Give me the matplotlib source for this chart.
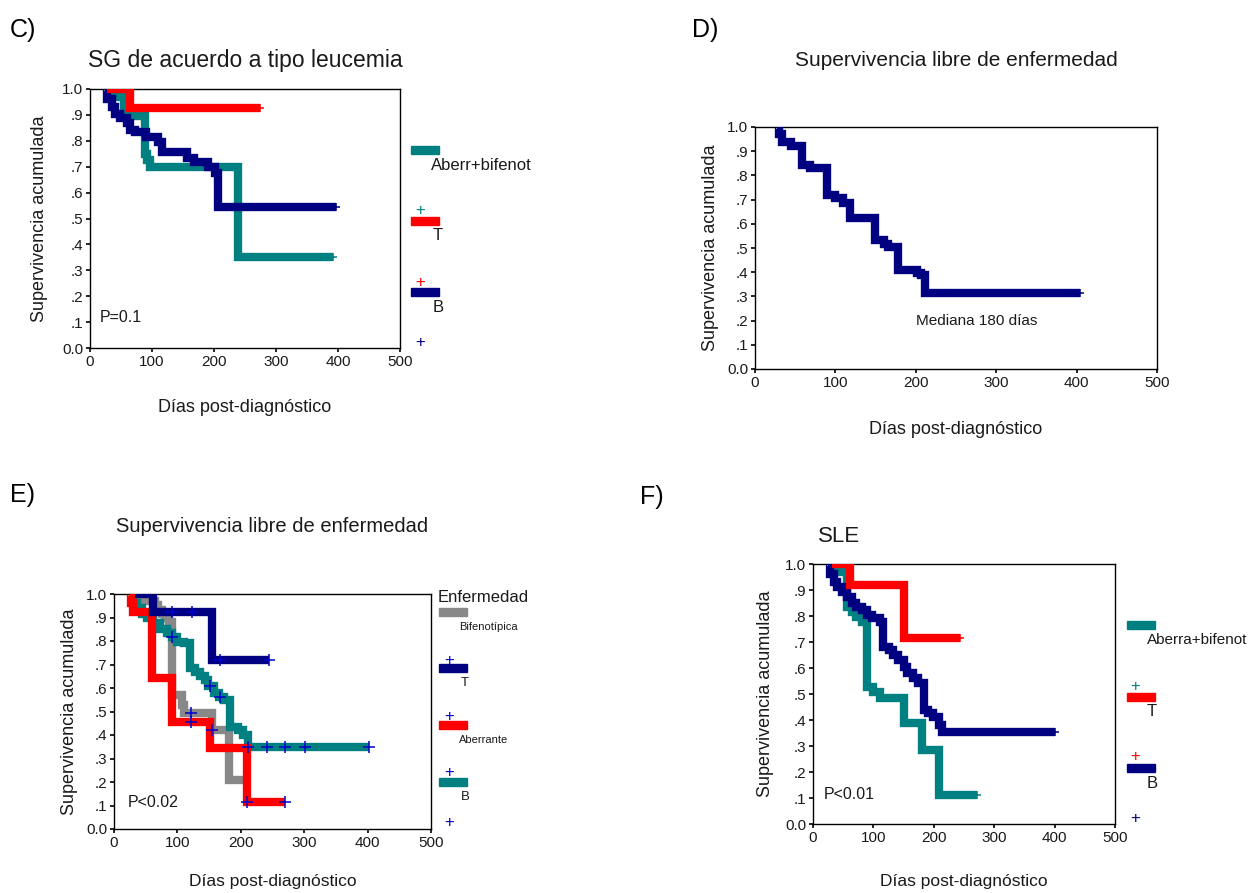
import numpy as np
import matplotlib.pyplot as plt
from matplotlib.patches import Rectangle

plt.rcParams['font.family'] = ['Liberation Sans', 'DejaVu Sans']

W, H = 1258, 893
TEAL = '#008080'
RED = '#ff0000'
NAVY = '#000080'
GRAY = '#888888'
PBLUE = '#0000cc'
TXT = '#1a1a1a'

# ---- panel C : SG de acuerdo a tipo leucemia ----
c_teal_t = [24, 30, 55, 88, 92, 96, 239, 392]
c_teal_s = [1.0, 0.97, 0.895, 0.75, 0.726, 0.70, 0.353, 0.353]
c_teal_cens = [268, 392]
c_red_t = [28, 64, 274]
c_red_s = [1.0, 0.925, 0.925]
c_red_cens = [175, 197, 274]
c_blue_t = [24, 27, 35, 40, 48, 59, 64, 73, 91, 110, 116, 156, 167, 191, 202, 207, 396]
c_blue_s = [1.0, 0.96, 0.93, 0.905, 0.887, 0.867, 0.842, 0.835, 0.816, 0.797, 0.758,
            0.733, 0.72, 0.70, 0.674, 0.546, 0.546]
c_blue_cens = [268, 301, 396]

# ---- panel D : Supervivencia libre de enfermedad ----
d_t = [27, 30, 33, 45, 58, 68, 89, 100, 110, 118, 149, 160, 166, 178, 201, 207, 211, 404]
d_s = [1.0, 0.97, 0.94, 0.92, 0.845, 0.83, 0.72, 0.706, 0.688, 0.626, 0.531, 0.515,
       0.504, 0.408, 0.398, 0.388, 0.312, 0.312]
d_cens = [240, 272, 303, 404]

# ---- panel E : Supervivencia libre de enfermedad (por enfermedad) ----
e_gray_t = [25, 35, 65, 70, 75, 81, 86, 91, 107, 110, 154, 181, 204]
e_gray_s = [1.0, 0.97, 0.953, 0.93, 0.917, 0.896, 0.882, 0.57, 0.528, 0.495, 0.42, 0.209, 0.209]
e_gray_cens = [121, 154]
e_blue_t = [33, 62, 154, 244]
e_blue_s = [1.0, 0.925, 0.72, 0.72]
e_blue_cens = [91, 123, 167, 244]
e_red_t = [25, 27, 30, 60, 91, 152, 210, 270]
e_red_s = [1.0, 0.96, 0.925, 0.641, 0.457, 0.344, 0.116, 0.116]
e_red_cens = [121, 210, 270]
e_teal_t = [28, 30, 36, 44, 52, 62, 73, 83, 91, 99, 110, 120, 128, 136, 144, 149, 157,
            165, 173, 183, 196, 204, 212, 402]
e_teal_s = [1.0, 0.96, 0.94, 0.917, 0.896, 0.875, 0.853, 0.832, 0.818, 0.797, 0.79, 0.684,
            0.67, 0.65, 0.636, 0.61, 0.58, 0.56, 0.55, 0.436, 0.42, 0.40, 0.35, 0.35]
e_teal_cens = [91, 152, 167, 212, 241, 270, 302, 402]

# ---- panel F : SLE ----
f_teal_t = [28, 39, 56, 64, 72, 81, 89, 100, 111, 150, 180, 208, 271]
f_teal_s = [1.0, 0.97, 0.836, 0.817, 0.797, 0.778, 0.528, 0.509, 0.483, 0.387, 0.285, 0.112, 0.112]
f_teal_cens = [271]
f_red_t = [31, 61, 150, 243]
f_red_s = [1.0, 0.919, 0.714, 0.714]
f_red_cens = [89, 161, 208, 243]
f_blue_t = [25, 28, 34, 39, 48, 56, 64, 72, 81, 89, 97, 111, 116, 125, 133, 141, 150, 155,
            166, 174, 183, 191, 199, 208, 213, 401]
f_blue_s = [1.0, 0.96, 0.93, 0.91, 0.894, 0.874, 0.849, 0.836, 0.823, 0.804, 0.791, 0.778,
            0.682, 0.669, 0.65, 0.63, 0.605, 0.58, 0.56, 0.541, 0.438, 0.426, 0.413, 0.38,
            0.355, 0.355]
f_blue_cens = [241, 301, 401]

y_ticks = np.arange(0, 1.01, 0.1)
y_labels = ['0.0', '.1', '.2', '.3', '.4', '.5', '.6', '.7', '.8', '.9', '1.0']
x_ticks = [0, 100, 200, 300, 400, 500]


def fx(x):
    return x / W


def fy(y):
    return 1 - y / H


def new_axes(fig, left, top, right, bottom, ylpad=8):
    ax = fig.add_axes([fx(left), fy(bottom), (right - left) / W, (bottom - top) / H])
    ax.set_xlim(0, 500)
    ax.set_ylim(0, 1.0)
    ax.set_xticks(x_ticks)
    ax.set_yticks(y_ticks)
    ax.set_yticklabels(y_labels)
    ax.tick_params(labelsize=11, length=3, width=1.2, colors='black', labelcolor=TXT, pad=2)
    for sp in ax.spines.values():
        sp.set_linewidth(1.0)
    ax.set_ylabel('Supervivencia acumulada', fontsize=13, color=TXT, labelpad=ylpad)
    return ax


def km(ax, t, s, color, cens, ccolor=None, ms=6):
    ax.step(t, s, where='post', color=color, lw=6, solid_joinstyle='miter',
            solid_capstyle='butt', zorder=3)
    idx = np.searchsorted(t, cens, side='right') - 1
    ys = np.array(s)[idx]
    ax.plot(cens, ys, ls='none', marker='+', ms=ms, mew=1.1,
            color=ccolor or color, zorder=4, clip_on=False)


def legend_item(fig, x, y, color, label, tx, fs):
    fig.add_artist(Rectangle((fx(x), fy(y + 4)), 28 / W, 8 / H, color=color,
                             transform=fig.transFigure))
    fig.text(fx(tx), fy(y + 15), label, fontsize=fs, color=TXT, va='center', ha='left')


def legend_plus(fig, x, y, color, size=12):
    fig.text(fx(x), fy(y), '+', fontsize=size, color=color, ha='center', va='center')


fig = plt.figure(figsize=(W / 100, H / 100), dpi=100)

# panel C
ax = new_axes(fig, 90, 89, 400, 348, ylpad=10)
km(ax, c_teal_t, c_teal_s, TEAL, c_teal_cens)
km(ax, c_blue_t, c_blue_s, NAVY, c_blue_cens)
km(ax, c_red_t, c_red_s, RED, c_red_cens)
ax.text(0.032, 0.1, 'P=0.1', transform=ax.transAxes, fontsize=11.5, color=TXT)
ax.set_xlabel('Días post-diagnóstico', fontsize=13, color=TXT, labelpad=22)
fig.text(fx(10), fy(30), 'C)', fontsize=18, va='center', ha='left', color='black')
fig.text(fx(245), fy(61), 'SG de acuerdo a tipo leucemia', fontsize=16.5, ha='center',
         va='center', color=TXT)
legend_item(fig, 411, 150, TEAL, 'Aberr+bifenot', 431, 12)
legend_plus(fig, 420, 210, TEAL)
legend_item(fig, 411, 221, RED, 'T', 433, 12)
legend_plus(fig, 420, 282, RED)
legend_item(fig, 411, 292, NAVY, 'B', 433, 12)
legend_plus(fig, 420, 342, NAVY)

# panel D
ax = new_axes(fig, 755, 127, 1157, 369, ylpad=6)
km(ax, d_t, d_s, NAVY, d_cens)
ax.text(0.552, 0.2, 'Mediana 180 días', transform=ax.transAxes, fontsize=11,
        color=TXT, ha='center', va='center')
ax.set_xlabel('Días post-diagnóstico', fontsize=13, color=TXT, labelpad=22)
fig.text(fx(692), fy(30), 'D)', fontsize=18, va='center', ha='left', color='black')
fig.text(fx(956), fy(60), 'Supervivencia libre de enfermedad', fontsize=15,
         ha='center', va='center', color=TXT)

# panel E
ax = new_axes(fig, 114, 594, 431, 829, ylpad=6)
km(ax, e_gray_t, e_gray_s, GRAY, e_gray_cens, PBLUE, 9)
km(ax, e_teal_t, e_teal_s, TEAL, e_teal_cens, PBLUE, 9)
km(ax, e_red_t, e_red_s, RED, e_red_cens, PBLUE, 9)
km(ax, e_blue_t, e_blue_s, NAVY, e_blue_cens, PBLUE, 9)
ax.text(0.044, 0.095, 'P<0.02', transform=ax.transAxes, fontsize=11.5, color=TXT)
ax.set_xlabel('Días post-diagnóstico', fontsize=12.5, color=TXT, labelpad=17)
fig.text(fx(10), fy(495), 'E)', fontsize=18, va='center', ha='left', color='black')
fig.text(fx(272), fy(527), 'Supervivencia libre de enfermedad', fontsize=14.5,
         ha='center', va='center', color=TXT)
fig.text(fx(438), fy(597), 'Enfermedad', fontsize=12, ha='left', va='center', color=TXT)
legend_item(fig, 439, 612, GRAY, 'Bifenotípica', 459, 8)
legend_plus(fig, 449, 660, PBLUE)
legend_item(fig, 439, 668, NAVY, 'T', 461, 9.5)
legend_plus(fig, 449, 716, PBLUE)
legend_item(fig, 439, 725, RED, 'Aberrante', 459, 8)
legend_plus(fig, 449, 773, PBLUE)
legend_item(fig, 439, 782, TEAL, 'B', 461, 9.5)
legend_plus(fig, 449, 823, PBLUE)

# panel F
ax = new_axes(fig, 813, 564, 1115, 824, ylpad=8)
km(ax, f_teal_t, f_teal_s, TEAL, f_teal_cens)
km(ax, f_blue_t, f_blue_s, NAVY, f_blue_cens)
km(ax, f_red_t, f_red_s, RED, f_red_cens)
ax.text(0.036, 0.095, 'P<0.01', transform=ax.transAxes, fontsize=11.5, color=TXT)
ax.set_xlabel('Días post-diagnóstico', fontsize=12.5, color=TXT, labelpad=21)
fig.text(fx(640), fy(497), 'F)', fontsize=18, va='center', ha='left', color='black')
fig.text(fx(818), fy(537), 'SLE', fontsize=16, ha='left', va='center', color=TXT)
legend_item(fig, 1127, 625, TEAL, 'Aberra+bifenot', 1147, 11)
legend_plus(fig, 1135, 687, TEAL)
legend_item(fig, 1127, 697, RED, 'T', 1147, 12)
legend_plus(fig, 1135, 757, RED)
legend_item(fig, 1127, 768, NAVY, 'B', 1147, 12)
legend_plus(fig, 1135, 818, NAVY)

fig.savefig('out.png', dpi=100)
